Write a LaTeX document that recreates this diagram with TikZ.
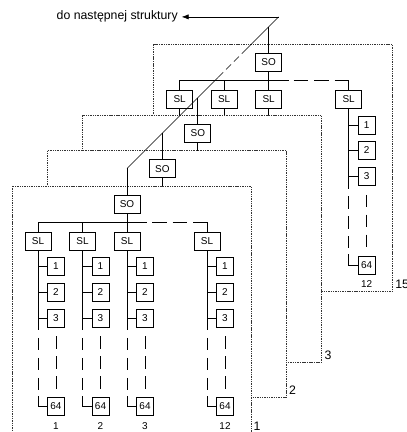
\documentclass[tikz,border=0pt]{standalone}
\usepackage{fontspec}
\setmainfont{Liberation Sans}
\usetikzlibrary{arrows.meta,calc}

\newcommand{\boxfont}{\fontsize{8.5}{9}\selectfont}
\newcommand{\labfont}{\fontsize{10.5}{12}\selectfont}

\tikzset{
  blk/.style={draw, fill=white, inner sep=0pt, minimum width=0.78cm, minimum height=0.54cm, font=\boxfont},
  num/.style={blk, minimum width=0.51cm},
  sheet/.style={draw=black!80, fill=white, dash pattern=on 1.2pt off 0.8pt},
  gap/.style={dash pattern=on 10.5pt off 6.5pt},
  busgap/.style={dash pattern=on 12.5pt off 5pt},
  diagap/.style={dash pattern=on 6pt off 3.5pt},
}

\begin{document}
\begin{tikzpicture}[x=0.03cm, y=-0.03cm, line width=0.6pt]
\useasboundingbox (0,0) rectangle (406,432);
\clip (0,0) rectangle (406,432);

% sheets, back to front (only the first and the last are drawn in full)
\foreach \k/\sh/\full in {4/15/1,2/3/0,1/2/0,0/1/1} {
\begin{scope}[shift={(12+35.4*\k,186-35.4*\k)}]
  \draw[sheet] (0,0) rectangle (239,247);
  \node[anchor=south west, inner sep=2pt, font=\labfont] (lab-\sh) at (239,247) {\sh};

  % SO with the line up to the diagonal
  \coordinate (in-\sh) at (115,-17.5);
  \coordinate (bus-\sh) at (115,36);
  \node[blk] (so-\sh) at (115,18) {SO};
  \draw (in-\sh) -- (so-\sh) -- (bus-\sh);

  \ifnum\full=1
  % SL columns
  \foreach \col/\xx/\cap in {1/26/1,2/70.5/2,3/115/3,4/195/12} {
    \node[blk] (sl-\sh-\col) at (\xx,55) {SL};
    \foreach \y/\bx in {80.5/1,106/2,132/3,220.5/64}
      \node[num] (n-\sh-\col-\bx) at (\xx+18,\y) {\bx};
    \node[font=\boxfont] (cap-\sh-\col) at (\xx+18,240) {\cap};
    \coordinate (tk-\sh-\col) at (\xx,210);
    \foreach \bx in {1,2,3}
      \draw (n-\sh-\col-\bx.west) -| (sl-\sh-\col.south);
    \draw[gap] (sl-\sh-\col.south |- n-\sh-\col-3.west) -- (tk-\sh-\col);
    \draw (tk-\sh-\col) |- (n-\sh-\col-64.west);
    \draw[gap, shorten <=7.7pt, shorten >=5.5pt] (n-\sh-\col-3.south) -- (n-\sh-\col-64.north);
    \draw (sl-\sh-\col.north) -- (sl-\sh-\col.north |- bus-\sh);
  }
  \draw (sl-\sh-1.north |- bus-\sh) -- ($(bus-\sh)+(20,0)$);
  \draw[busgap] ($(bus-\sh)+(25,0)$) -- (sl-\sh-4.north |- bus-\sh);
  \fi
\end{scope}
}

% link to the next structure
\coordinate (turn) at ($(in-15)+(10,-10)$);
\path (turn) ++(-97,0) node[anchor=mid east, inner sep=3pt, font=\labfont] (next) {do następnej struktury};
\draw[-{Latex[length=6pt,width=4.5pt]}] (turn) -- (next.mid east);
\draw (turn) -- ($(turn)!0.21!(in-1)$);
\draw[diagap] ($(turn)!0.21!(in-1)$) -- ($(turn)!0.40!(in-1)$);
\draw ($(turn)!0.40!(in-1)$) -- (in-1);
\end{tikzpicture}
\end{document}
